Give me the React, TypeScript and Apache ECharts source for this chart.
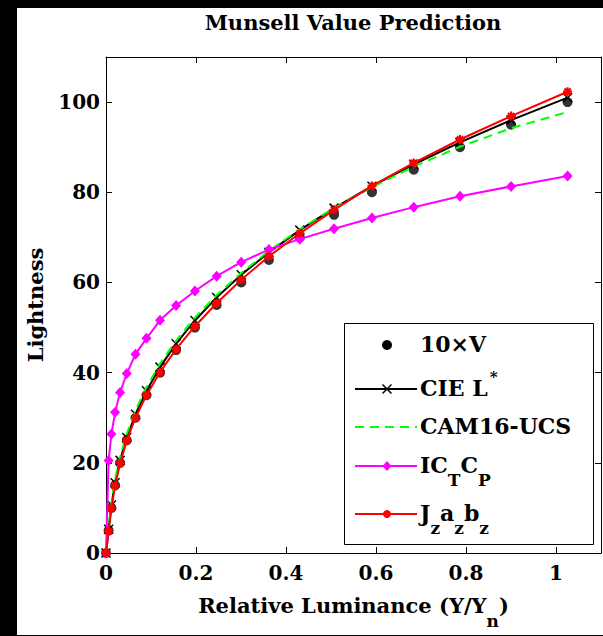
import React, { useEffect, useRef } from "react";
import * as echarts from "echarts";

// Relative luminance Y/Yn of the Munsell value steps V = 0, 0.5, ..., 10
const luminance = [
  0, 0.00582, 0.0121, 0.02021, 0.03126, 0.04614, 0.06555, 0.09004, 0.12001,
  0.1558, 0.19767, 0.24584, 0.30054, 0.36204, 0.43065, 0.50679, 0.59101,
  0.684, 0.78666, 0.90012, 1.0257,
];
const munsell10V = [
  0, 5, 10, 15, 20, 25, 30, 35, 40, 45, 50, 55, 60, 65, 70, 75, 80, 85, 90, 95,
  100,
];
const cieL = [
  0, 5.26, 10.63, 15.6, 20.54, 25.61, 30.77, 35.99, 41.22, 46.42, 51.57, 56.67,
  61.7, 66.67, 71.6, 76.48, 81.35, 86.21, 91.08, 96.0, 100.98,
];
const cam16ucs = [
  0, 6.0, 11.3, 16.3, 21.3, 26.4, 31.6, 36.8, 42.0, 47.1, 52.2, 57.2, 62.1,
  67.0, 71.8, 76.5, 81.1, 85.7, 90.1, 94.2, 97.8,
];
const ictcp = [
  0, 20.5, 26.4, 31.2, 35.6, 39.8, 44.1, 47.6, 51.6, 54.9, 58.1, 61.4, 64.5,
  67.3, 69.6, 71.9, 74.3, 76.7, 79.1, 81.3, 83.6,
];
const jzazbz = [
  0, 4.8, 9.9, 14.9, 19.9, 24.9, 30.0, 35.0, 40.1, 45.2, 50.3, 55.4, 60.6,
  65.8, 70.9, 76.1, 81.4, 86.5, 91.7, 96.9, 102.3,
];

const X_MIN = 0;
const X_MAX = 1.1;
const X_STEP = 0.2;
const Y_MIN = 0;
const Y_MAX = 110;
const Y_STEP = 20;

const FONT = '"DejaVu Serif", "Liberation Serif", serif';
const OX = 17; // white figure area offset inside the black frame
const OY = 8;

const pairs = (ys: number[]) => luminance.map((x, i) => [x, ys[i]]);

const CROSS = "path://M0,0L10,10M10,0L0,10";
const STAR = "path://M5,0L5,10M0,5L10,5M1.5,1.5L8.5,8.5M8.5,1.5L1.5,8.5";

const baseText = { fontFamily: FONT, fontWeight: "bold" as const, color: "#000" };
const rich = {
  b: { ...baseText, fontSize: 22, lineHeight: 24, verticalAlign: "top" },
  bp: { ...baseText, fontSize: 22, lineHeight: 24, verticalAlign: "top", padding: [8, 0, 0, 0] },
  sub: { ...baseText, fontSize: 17, lineHeight: 18, verticalAlign: "top", padding: [17, 0, 0, 0] },
  sup: { ...baseText, fontSize: 15, lineHeight: 16, verticalAlign: "top", padding: [0, 0, 0, 2] },
};
const axisRich = {
  b: { ...baseText, fontSize: 21, lineHeight: 24, verticalAlign: "top" },
  sub: { ...baseText, fontSize: 17, lineHeight: 18, verticalAlign: "top", padding: [17, 0, 0, 0] },
};

function legendGraphics() {
  const lx0 = 355 - OX;
  const lx1 = 417 - OX;
  const mx = 387 - OX;
  const tx = 420 - OX;
  const els: any[] = [];
  els.push({
    type: "rect",
    shape: { x: 344 - OX + 0.5, y: 323 - OY + 0.5, width: 249, height: 221 },
    style: { fill: "#fff", stroke: "#000", lineWidth: 1 },
    z: 100,
  });
  const text = (s: string, yTop: number) => ({
    type: "text",
    x: tx,
    y: yTop,
    z: 101,
    style: { text: s, rich, verticalAlign: "top", align: "left" },
  });
  // 10xV
  let y = 345 - OY;
  els.push({ type: "circle", shape: { cx: mx, cy: y, r: 5 }, style: { fill: "#000" }, z: 101 });
  els.push(text("{b|10×V}", y - 12));
  // CIE L*
  y = 389 - OY;
  els.push({ type: "line", shape: { x1: lx0, y1: y, x2: lx1, y2: y }, style: { stroke: "#000", lineWidth: 2 }, z: 101 });
  els.push({ type: "line", shape: { x1: mx - 4.5, y1: y - 4.5, x2: mx + 4.5, y2: y + 4.5 }, style: { stroke: "#000", lineWidth: 1.5 }, z: 101 });
  els.push({ type: "line", shape: { x1: mx - 4.5, y1: y + 4.5, x2: mx + 4.5, y2: y - 4.5 }, style: { stroke: "#000", lineWidth: 1.5 }, z: 101 });
  els.push(text("{bp|CIE L}{sup|*}", y - 20));
  // CAM16-UCS
  y = 427 - OY;
  els.push({ type: "line", shape: { x1: lx0, y1: y, x2: lx1, y2: y }, style: { stroke: "#00ff00", lineWidth: 2, lineDash: [9, 6] }, z: 101 });
  els.push(text("{b|CAM16-UCS}", y - 12));
  // ICtCp
  y = 466 - OY;
  els.push({ type: "line", shape: { x1: lx0, y1: y, x2: lx1, y2: y }, style: { stroke: "#ff00ff", lineWidth: 2 }, z: 101 });
  els.push({ type: "polygon", shape: { points: [[mx, y - 5], [mx + 4.5, y], [mx, y + 5], [mx - 4.5, y]] }, style: { fill: "#ff00ff" }, z: 101 });
  els.push(text("{b|IC}{sub|T}{b|C}{sub|P}", y - 12));
  // Jzazbz
  y = 514 - OY;
  els.push({ type: "line", shape: { x1: lx0, y1: y, x2: lx1, y2: y }, style: { stroke: "#ff0000", lineWidth: 2 }, z: 101 });
  els.push({ type: "circle", shape: { cx: mx, cy: y, r: 4 }, style: { fill: "#ff0000" }, z: 101 });
  els.push(text("{b|J}{sub|z}{b|a}{sub|z}{b|b}{sub|z}", y - 12));
  return els;
}

export default function App() {
  const ref = useRef<HTMLDivElement>(null);

  useEffect(() => {
    if (!ref.current) return;
    const chart = echarts.init(ref.current, undefined, { renderer: "svg" });

    const axisCommon = {
      type: "value" as const,
      axisLine: { show: true, onZero: false, lineStyle: { color: "#000", width: 1 } },
      axisTick: { show: true, inside: true, length: 6, lineStyle: { color: "#000", width: 1 } },
      splitLine: { show: false },
    };
    const labelStyle = {
      fontFamily: FONT,
      fontWeight: "bold" as const,
      fontSize: 20,
      color: "#000",
    };

    chart.setOption({
      animation: false,
      backgroundColor: "#fff",
      grid: { left: 105 - OX, top: 57 - OY, right: 2, bottom: 82 },
      graphic: [
        {
          type: "text",
          x: 353 - OX,
          y: 22 - OY,
          style: {
            text: "Munsell Value Prediction",
            fontFamily: FONT,
            fontWeight: "bold",
            fontSize: 21,
            fill: "#000",
            align: "center",
            verticalAlign: "middle",
          },
        },
        ...legendGraphics(),
      ],
      xAxis: [
        {
          ...axisCommon,
          position: "bottom",
          min: X_MIN,
          max: X_MAX,
          interval: X_STEP,
          axisLabel: { ...labelStyle, margin: 10, showMaxLabel: false },
          name: "{b|Relative Luminance (Y/Y}{sub|n}{b|)}",
          nameLocation: "middle",
          nameGap: 42,
          nameTextStyle: { ...labelStyle, fontSize: 21, rich: axisRich, verticalAlign: "top" },
        },
        {
          ...axisCommon,
          position: "top",
          min: X_MIN,
          max: X_MAX,
          interval: X_STEP,
          axisLabel: { show: false },
        },
      ],
      yAxis: [
        {
          ...axisCommon,
          position: "left",
          min: Y_MIN,
          max: Y_MAX,
          interval: Y_STEP,
          axisLabel: { ...labelStyle, margin: 6, showMaxLabel: false },
          name: "Lightness",
          nameLocation: "middle",
          nameGap: 60,
          nameTextStyle: { ...labelStyle, fontSize: 21 },
        },
        {
          ...axisCommon,
          position: "right",
          min: Y_MIN,
          max: Y_MAX,
          interval: Y_STEP,
          axisLabel: { show: false },
        },
      ],
      series: [
        {
          name: "10×V",
          type: "scatter",
          data: pairs(munsell10V),
          symbol: "circle",
          symbolSize: 10,
          itemStyle: { color: "#000" },
          clip: false,
          z: 2,
        },
        {
          name: "CIE L*",
          type: "line",
          data: pairs(cieL),
          symbol: CROSS,
          symbolSize: 9,
          itemStyle: { color: "#000", borderColor: "#000", borderWidth: 1.5 },
          lineStyle: { color: "#000", width: 2 },
          clip: false,
          z: 3,
        },
        {
          name: "CAM16-UCS",
          type: "line",
          data: pairs(cam16ucs),
          showSymbol: false,
          lineStyle: { color: "#00ff00", width: 2, type: [9, 6] },
          clip: false,
          z: 4,
        },
        {
          name: "ICtCp",
          type: "line",
          data: pairs(ictcp),
          symbol: "diamond",
          symbolSize: [10, 11],
          itemStyle: { color: "#ff00ff" },
          lineStyle: { color: "#ff00ff", width: 2 },
          clip: false,
          z: 5,
        },
        {
          name: "Jzazbz",
          type: "line",
          data: pairs(jzazbz),
          symbol: STAR,
          symbolSize: 9,
          itemStyle: { color: "#ff0000", borderColor: "#ff0000", borderWidth: 2.2 },
          lineStyle: { color: "#ff0000", width: 2 },
          clip: false,
          z: 6,
        },
      ],
    });

    return () => chart.dispose();
  }, []);

  return (
    <div
      style={{
        position: "fixed",
        left: 0,
        top: 0,
        width: 603,
        height: 636,
        background: "#000",
      }}
    >
      <div
        ref={ref}
        style={{
          position: "absolute",
          left: OX,
          top: OY,
          width: 603 - OX,
          height: 635 - OY,
        }}
      />
    </div>
  );
}
